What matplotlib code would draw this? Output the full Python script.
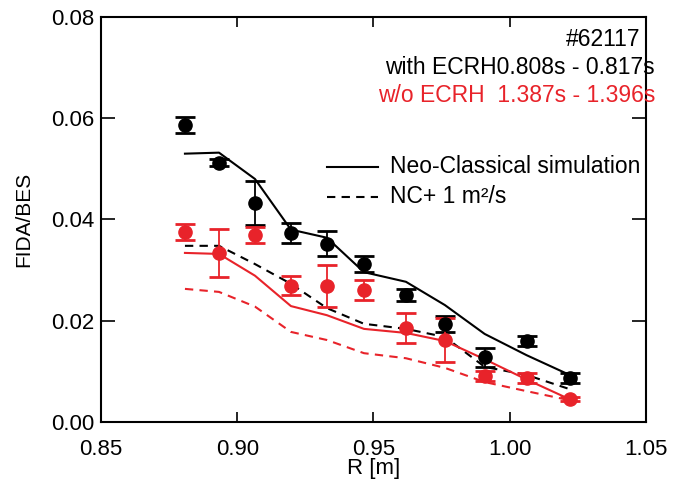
import numpy as np
import matplotlib.pyplot as plt

plt.rcParams['font.family'] = ['Liberation Sans', 'DejaVu Sans']

# radial positions of the channels
R = [0.8808, 0.8933, 0.9065, 0.9197, 0.9329, 0.9465, 0.9619, 0.9762, 0.9908, 1.0062, 1.0220]

# with ECRH (black)
ecrh_meas = [0.0587, 0.0512, 0.0433, 0.0374, 0.0352, 0.0312, 0.0251, 0.0194, 0.0128, 0.0160, 0.0087]
ecrh_err = [0.0016, 0.0007, 0.0044, 0.0020, 0.0025, 0.0015, 0.0011, 0.0016, 0.0019, 0.0010, 0.0010]
ecrh_nc = [0.0530, 0.0532, 0.0480, 0.0380, 0.0364, 0.0296, 0.0277, 0.0231, 0.0174, 0.0132, 0.0093]
ecrh_nc1 = [0.0348, 0.0348, 0.0312, 0.0273, 0.0225, 0.0194, 0.0184, 0.0168, 0.0109, 0.0093, 0.0065]

# without ECRH (red)
noecrh_meas = [0.0375, 0.0334, 0.0370, 0.0269, 0.0269, 0.0261, 0.0186, 0.0162, 0.0091, 0.0087, 0.0045]
noecrh_err = [0.0016, 0.0047, 0.0016, 0.0019, 0.0042, 0.0020, 0.0030, 0.0043, 0.0009, 0.0009, 0.0004]
noecrh_nc = [0.0334, 0.0332, 0.0289, 0.0229, 0.0211, 0.0184, 0.0176, 0.0160, 0.0124, 0.0084, 0.0045]
noecrh_nc1 = [0.0263, 0.0257, 0.0228, 0.0178, 0.0162, 0.0136, 0.0126, 0.0107, 0.0079, 0.0061, 0.0043]

red = '#e8232a'
fs = 16
fs_txt = 16.5

fig = plt.figure(figsize=(6.84, 4.84), dpi=100)
ax = fig.add_axes([0.1477, 0.128, 0.7967, 0.837])

ax.plot(R, ecrh_nc, color='black', lw=1.5)
ax.plot(R, ecrh_nc1, color='black', lw=1.5, ls=(0, (4, 3)))
ax.plot(R, noecrh_nc, color=red, lw=1.5)
ax.plot(R, noecrh_nc1, color=red, lw=1.5, ls=(0, (4, 3)))

ax.errorbar(R, ecrh_meas, yerr=ecrh_err, fmt='o', color='black', ms=9.5,
            elinewidth=1.3, capsize=7, capthick=2)
ax.errorbar(R, noecrh_meas, yerr=noecrh_err, fmt='o', color=red, ms=9.5,
            elinewidth=1.3, capsize=7, capthick=2)

ax.set_xlim(0.85, 1.05)
ax.set_ylim(0.0, 0.08)
ax.set_xticks([0.85, 0.90, 0.95, 1.00, 1.05])
ax.set_xticklabels(['0.85', '0.90', '0.95', '1.00', '1.05'])
ax.set_yticks([0.0, 0.02, 0.04, 0.06, 0.08])
ax.set_yticklabels(['0.00', '0.02', '0.04', '0.06', '0.08'])
ax.tick_params(axis='x', direction='in', top=True, length=7, width=1.2, labelsize=fs, pad=12)
ax.tick_params(axis='y', direction='in', right=True, length=10, width=1.2, labelsize=fs, pad=5)
for s in ax.spines.values():
    s.set_linewidth(1.5)

ax.set_xlabel('R [m]', fontsize=fs, labelpad=-1)
ax.set_ylabel('FIDA/BES', fontsize=15, labelpad=13)

# legend drawn by hand like the original
ax.plot([0.933, 0.9516], [0.0504, 0.0504], color='black', lw=1.5)
ax.plot([0.933, 0.9516], [0.0445, 0.0445], color='black', lw=1.5, ls=(0, (4, 3)))
ax.text(0.956, 0.0504, 'Neo-Classical simulation', fontsize=fs_txt, va='center')
ax.text(0.956, 0.0445, 'NC+ 1 m²/s', fontsize=fs_txt, va='center')

ax.text(1.0478, 0.0755, '#62117', fontsize=fs_txt, ha='right', va='center')
ax.text(1.0533, 0.0700, 'with ECRH0.808s - 0.817s', fontsize=fs_txt, ha='right', va='center')
ax.text(1.0533, 0.0644, 'w/o ECRH  1.387s - 1.396s', fontsize=fs_txt, ha='right', va='center',
        color=red)

plt.savefig('out.png', dpi=100)
plt.close()
